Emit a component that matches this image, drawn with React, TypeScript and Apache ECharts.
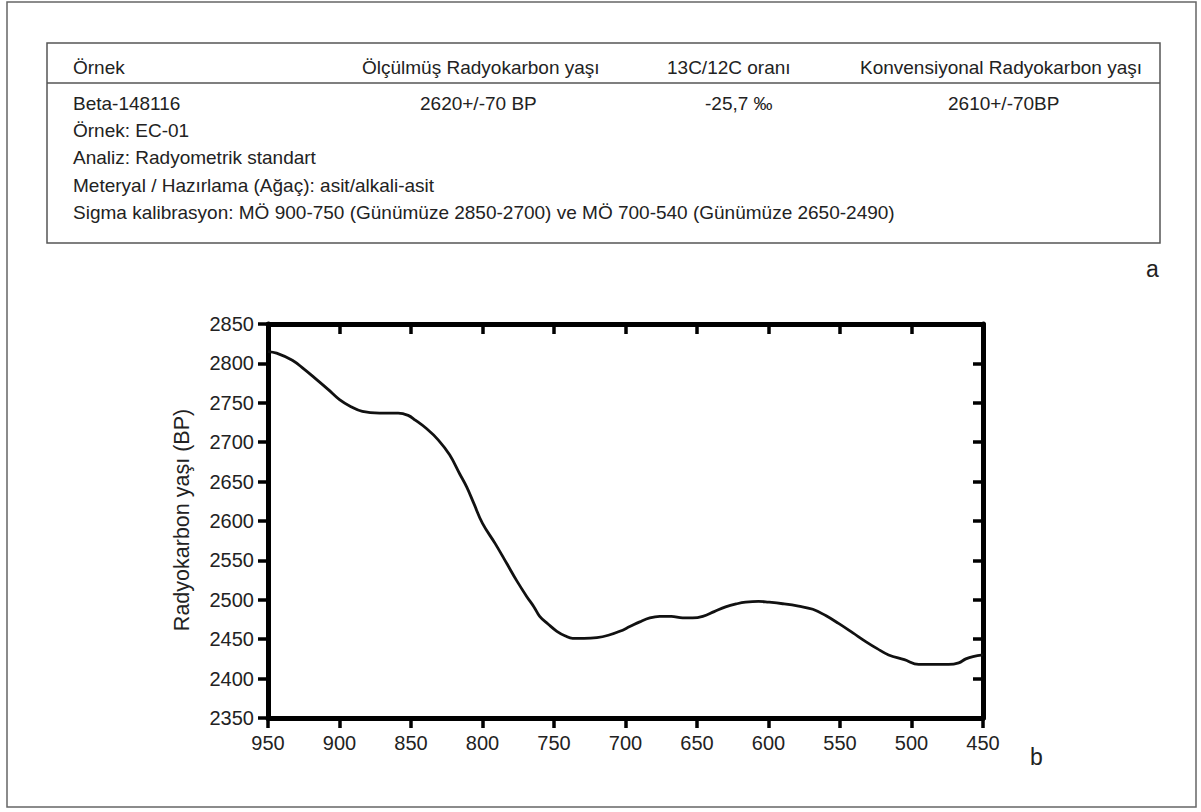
import React, { useEffect, useRef } from "react";
import * as echarts from "echarts";

// ---- Data ----
const tableHeaders = [
  "Örnek",
  "Ölçülmüş Radyokarbon yaşı",
  "13C/12C oranı",
  "Konvensiyonal Radyokarbon yaşı",
];
const sampleRow = ["Beta-148116", "2620+/-70 BP", "-25,7 ‰", "2610+/-70BP"];
const detailLines = [
  "Örnek: EC-01",
  "Analiz: Radyometrik standart",
  "Meteryal / Hazırlama (Ağaç): asit/alkali-asit",
  "Sigma kalibrasyon: MÖ 900-750 (Günümüze 2850-2700) ve MÖ 700-540 (Günümüze 2650-2490)",
];
const panelLabels = ["a", "b"];
const yAxisTitle = "Radyokarbon yaşı (BP)";

// calendar years (BC) and radiocarbon age (BP)
const years = [
  950, 944, 933, 925, 917, 908, 900, 892, 884, 872, 859, 852, 847, 839, 831, 823,
  816, 811, 806, 800, 791, 783, 776, 769, 764, 760, 754, 748, 742, 737, 729, 720,
  712, 704, 697, 690, 683, 676, 668, 660, 653, 646, 638, 630, 622, 616, 607, 600,
  590, 579, 569, 560, 551, 541, 532, 524, 516, 505, 495, 484, 474, 467, 462, 457,
  450,
];
const ages = [
  2815, 2813, 2804, 2793, 2781, 2767, 2754, 2745, 2739, 2737, 2737, 2734, 2728,
  2717, 2703, 2684, 2660, 2643, 2622, 2597, 2571, 2546, 2524, 2504, 2491, 2479,
  2469, 2460, 2454, 2451, 2451, 2452, 2455, 2460, 2466, 2472, 2477, 2479, 2479,
  2477, 2477, 2479, 2485, 2491, 2495, 2497, 2498, 2497, 2495, 2492, 2488, 2480,
  2470, 2458, 2447, 2438, 2430, 2424, 2418, 2418, 2418, 2420, 2425, 2428, 2430,
];
const xMin = 450;
const xMax = 950;
const xStep = 50;
const yMin = 2350;
const yMax = 2850;
const yStep = 50;

// ---- Layout ----
const FONT = "'Liberation Sans', Arial, Helvetica, sans-serif";
const headerX = [73, 362, 667, 860];
const rowX = [73, 420, 705, 948];

export default function App() {
  const ref = useRef<HTMLDivElement>(null);

  useEffect(() => {
    if (!ref.current) return;
    const chart = echarts.init(ref.current, null, { renderer: "svg" });

    const textEl = (t: string, x: number, y: number, size = 19) => ({
      type: "text",
      x,
      y,
      style: {
        text: t,
        fill: "#222",
        font: `${size}px ${FONT}`,
        verticalAlign: "middle",
      },
      silent: true,
    });

    const graphics: any[] = [
      {
        type: "rect",
        shape: { x: 7, y: 2, width: 1189, height: 805 },
        style: { fill: "none", stroke: "#666", lineWidth: 1.5 },
        silent: true,
      },
      {
        type: "rect",
        shape: { x: 47, y: 43, width: 1113, height: 200 },
        style: { fill: "none", stroke: "#555", lineWidth: 1.5 },
        silent: true,
      },
      {
        type: "line",
        shape: { x1: 47, y1: 83, x2: 1160, y2: 83 },
        style: { stroke: "#555", lineWidth: 1.5 },
        silent: true,
      },
      ...tableHeaders.map((t, i) => textEl(t, headerX[i], 67)),
      ...sampleRow.map((t, i) => textEl(t, rowX[i], 103)),
      ...detailLines.map((t, i) => textEl(t, 73, 130 + i * 27.5)),
      textEl(panelLabels[0], 1146, 269, 23),
      textEl(panelLabels[1], 1030, 757, 23),
      {
        type: "text",
        x: 182,
        y: 520,
        rotation: Math.PI / 2,
        style: {
          text: yAxisTitle,
          fill: "#222",
          font: `21.5px ${FONT}`,
          align: "center",
          verticalAlign: "middle",
        },
        silent: true,
      },
    ];

    const mkLine = () => ({ show: true, onZero: false, lineStyle: { color: "#000", width: 5 } });
    const tickOut = () => ({ show: true, inside: false, length: 10, lineStyle: { color: "#000", width: 3.5 } });
    const tickIn = () => ({ show: true, inside: true, length: 10, lineStyle: { color: "#000", width: 3.5 } });
    const label = { fontSize: 20, color: "#222", fontFamily: FONT, formatter: (v: number) => String(v) };

    chart.setOption({
      animation: false,
      backgroundColor: "#fff",
      grid: { left: 268, top: 324, width: 715, height: 394 },
      xAxis: [
        {
          type: "value",
          position: "bottom",
          min: xMin,
          max: xMax,
          interval: xStep,
          inverse: true,
          axisLine: mkLine(),
          axisTick: tickOut(),
          axisLabel: { ...label, margin: 15 },
          splitLine: { show: false },
        },
        {
          type: "value",
          position: "top",
          min: xMin,
          max: xMax,
          interval: xStep,
          inverse: true,
          axisLine: mkLine(),
          axisTick: tickIn(),
          axisLabel: { show: false },
          splitLine: { show: false },
        },
      ],
      yAxis: [
        {
          type: "value",
          position: "left",
          min: yMin,
          max: yMax,
          interval: yStep,
          axisLine: mkLine(),
          axisTick: tickOut(),
          axisLabel: { ...label, margin: 14 },
          splitLine: { show: false },
        },
        {
          type: "value",
          position: "right",
          min: yMin,
          max: yMax,
          interval: yStep,
          axisLine: mkLine(),
          axisTick: tickIn(),
          axisLabel: { show: false },
          splitLine: { show: false },
        },
      ],
      series: [
        {
          type: "line",
          xAxisIndex: 0,
          yAxisIndex: 0,
          data: years.map((y, i) => [y, ages[i]]),
          smooth: 0.4,
          showSymbol: false,
          lineStyle: { color: "#111", width: 2.8 },
        },
      ],
      graphic: graphics,
    });

    return () => chart.dispose();
  }, []);

  return (
    <div
      ref={ref}
      style={{ position: "absolute", left: 0, top: 0, width: 1201, height: 812, background: "#fff" }}
    />
  );
}
